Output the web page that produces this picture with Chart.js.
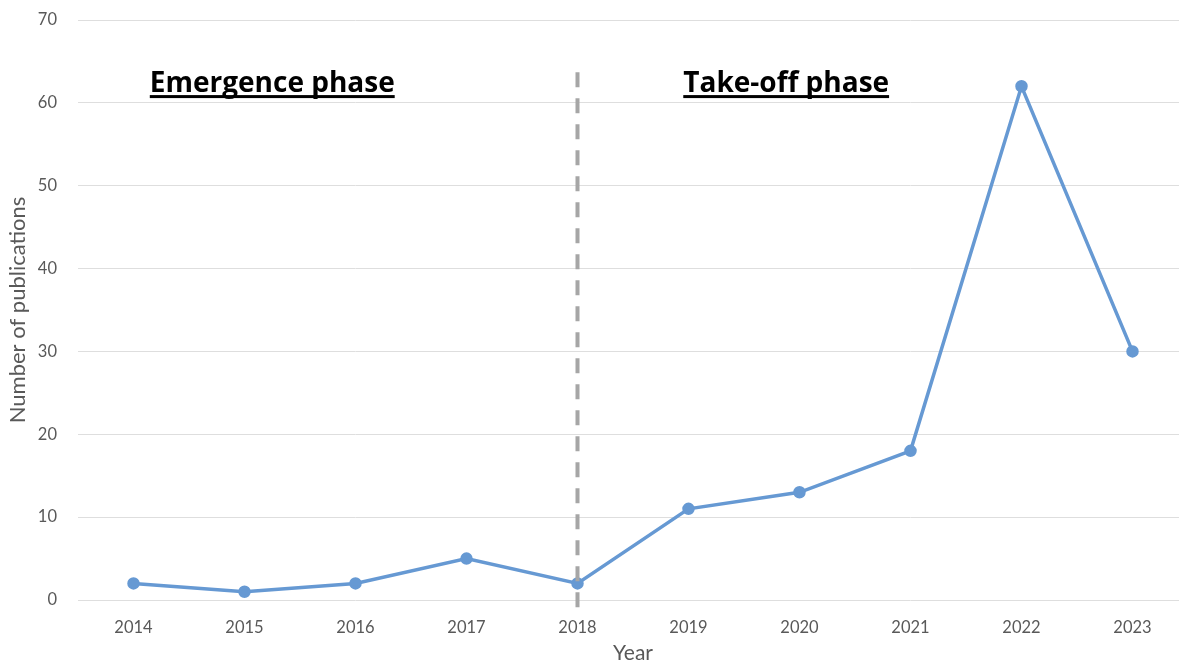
<!DOCTYPE html>
<html>
<head>
<meta charset="utf-8">
<script src="https://cdn.jsdelivr.net/npm/chart.js@4.4.0/dist/chart.umd.min.js"></script>
<style>
    html, body { margin: 0; padding: 0; background: #fff; }
    #frame { width: 1179px; height: 666px; overflow: hidden; position: relative; }
    #pubChart { display: block; }
</style>
</head>
<body>
<div id="frame"><canvas id="pubChart" width="1188" height="666"></canvas></div>
<script>
const years = ['2014', '2015', '2016', '2017', '2018', '2019', '2020', '2021', '2022', '2023'];
const publications = [2, 1, 2, 5, 2, 11, 13, 18, 62, 30];
const yTicks = [0, 10, 20, 30, 40, 50, 60, 70];
const phaseLabels = ['Emergence phase', 'Take-off phase'];
const phaseSplit = '2018';

const tickColor = '#595959';
const fontFamily = 'Lato, "Open Sans", sans-serif';

// dashed divider at the phase split plus the two phase headings
const phasePlugin = {
    id: 'phases',
    afterDatasetsDraw(chart) {
        const ctx = chart.ctx;
        const x = chart.scales.x;
        const y = chart.scales.y;
        const splitX = x.getPixelForValue(years.indexOf(phaseSplit));

        ctx.save();
        ctx.strokeStyle = '#a6a6a6';
        ctx.lineWidth = 4;
        ctx.setLineDash([15, 11]);
        ctx.beginPath();
        ctx.moveTo(splitX, y.getPixelForValue(63.7));
        ctx.lineTo(splitX, y.bottom + 9);
        ctx.stroke();
        ctx.restore();

        const headings = [
            { text: phaseLabels[0], at: 1.25 },
            { text: phaseLabels[1], at: 5.88 }
        ];
        ctx.save();
        ctx.font = 'bold 28px "Open Sans", sans-serif';
        ctx.fillStyle = '#000';
        ctx.textAlign = 'center';
        ctx.textBaseline = 'alphabetic';
        const baseY = y.getPixelForValue(61.3);
        headings.forEach(h => {
            const cx = x.getPixelForValue(h.at);
            ctx.fillText(h.text, cx, baseY);
            const w = ctx.measureText(h.text).width;
            ctx.fillRect(cx - w / 2, baseY + 3, w, 3);
        });
        ctx.restore();
    }
};

const ctx = document.getElementById('pubChart').getContext('2d');
new Chart(ctx, {
    type: 'line',
    data: {
        labels: years,
        datasets: [{
            data: publications,
            borderColor: '#6699d3',
            backgroundColor: '#6699d3',
            borderWidth: 3.5,
            pointRadius: 4.5,
            pointHoverRadius: 4.5,
            tension: 0,
            fill: false,
            clip: false
        }]
    },
    options: {
        responsive: false,
        animation: false,
        layout: {
            autoPadding: false,
            padding: { top: 20, right: 0, bottom: 0, left: 0 }
        },
        plugins: {
            legend: { display: false },
            tooltip: { enabled: false }
        },
        scales: {
            x: {
                offset: true,
                grid: { display: false },
                border: { display: false },
                ticks: {
                    color: tickColor,
                    font: { family: fontFamily, size: 16.5 },
                    padding: 10,
                    maxRotation: 0
                },
                title: {
                    display: true,
                    text: 'Year',
                    color: tickColor,
                    font: { family: fontFamily, size: 21 },
                    padding: { top: 0, bottom: 0 }
                },
                afterFit(scale) {
                    scale.height = 66;
                    scale.paddingLeft = 0;
                    scale.paddingRight = 0;
                }
            },
            y: {
                min: 0,
                max: 70,
                afterBuildTicks(scale) { scale.ticks = yTicks.map(v => ({ value: v })); },
                grid: { color: '#dedede', lineWidth: 1, drawTicks: false },
                border: { display: false },
                ticks: {
                    color: tickColor,
                    font: { family: fontFamily, size: 16.5 },
                    padding: 21
                },
                title: {
                    display: true,
                    text: 'Number of publications',
                    color: tickColor,
                    font: { family: fontFamily, size: 22 },
                    padding: { top: 5, bottom: 0 }
                },
                afterFit(scale) {
                    scale.width = 78;
                    scale.paddingTop = 0;
                    scale.paddingBottom = 0;
                }
            }
        }
    },
    plugins: [phasePlugin]
});
</script>
</body>
</html>
